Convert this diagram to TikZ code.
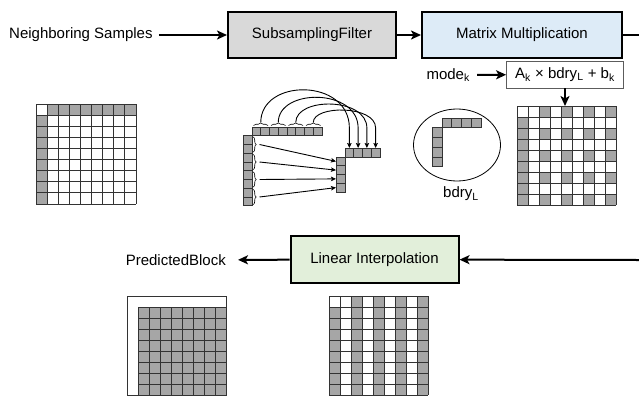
\documentclass[tikz,border=0pt]{standalone}
\usepackage{fontspec}
\setmainfont{Liberation Sans}
\usetikzlibrary{arrows.meta,decorations.pathreplacing,shapes.geometric}
\definecolor{cellgray}{HTML}{A6A6A6}
\definecolor{boxgray}{HTML}{D9D9D9}
\definecolor{boxblue}{HTML}{DDEBF7}
\definecolor{boxgreen}{HTML}{E2EFDA}
\definecolor{gridline}{HTML}{333333}
\begin{document}
\begin{tikzpicture}[x=1pt,y=-1pt,
  lbl/.style={font=\fontsize{15}{18}\selectfont, inner sep=0pt},
  procbox/.style={draw=black, line width=2pt, minimum width=168pt, minimum height=46pt,
    font=\fontsize{15}{18}\selectfont, inner sep=0pt},
  flow/.style={line width=2pt, -{Stealth[length=10pt,width=9pt,inset=2.5pt]}},
  thinarrow/.style={line width=0.9pt, -{Stealth[length=5pt,width=4.5pt,inset=1pt]}},
  gl/.style={draw=gridline, line width=1pt},
  cellbox/.style={fill=cellgray, draw=gridline, line width=0.9pt},
  brc/.style={decorate, decoration={brace, amplitude=2.5pt}, line width=0.6pt},
]
\useasboundingbox (0,0) rectangle (639,399);

% ---------- top flow ----------
\node[lbl, anchor=west] (ns) at (9,35) {Neighboring Samples};
\node[procbox, fill=boxgray] (sf) at (312,35) {SubsamplingFilter};
\node[procbox, fill=boxblue, minimum width=200pt] (mm) at (522,35) {Matrix Multiplication};
\coordinate (redge) at (639,35);
\draw[flow, shorten <=6pt] (ns) -- (sf);
\draw[flow] (sf) -- (mm);
\draw[line width=2pt] (mm) -- (redge);

\node[draw=gridline!80, line width=0.8pt, minimum width=117pt, minimum height=27pt,
  lbl] (ak) at (565,74.5) {A\textsubscript{k} × bdry\textsubscript{L} + b\textsubscript{k}};
\node[lbl, anchor=east] (mode) at (470,75) {mode\textsubscript{k}};
\draw[flow, shorten <=7pt] (mode) -- (ak);
\coordinate (gbtop) at (565,106);
\draw[flow] (ak.south) -- (gbtop);

% ---------- grid A (top left) ----------
\fill[cellgray] (47.111,104) rectangle (136,115.111);
\fill[cellgray] (36,115.111) rectangle (47.111,204);
\foreach \i in {0,...,9} {
  \draw[gl] ({36+\i*11.111},104) -- ++(0,100);
  \draw[gl] (36,{104+\i*11.111}) -- ++(100,0);
}

% ---------- grid B (matrix output) ----------
\fill[cellgray] (517,117) rectangle (528,205);
\foreach \a in {2,4,6,8} {
  \fill[cellgray] ({517+\a*11},106) rectangle ++(11,11);
  \foreach \b in {2,4,6,8}
    \fill[cellgray] ({517+\a*11},{106+\b*11}) rectangle ++(11,11);
}
\foreach \i in {0,...,9} {
  \draw[gl] ({517+\i*11},106) -- ++(0,99);
  \draw[gl] (517,{106+\i*11}) -- ++(99,0);
}

% ---------- subsampling illustration ----------
\foreach \i in {0,...,7} {
  \draw[cellbox] ({252+\i*8.75},127) rectangle ++(8.75,8.75);
  \draw[cellbox] (243.25,{135.75+\i*8.75}) rectangle ++(8.75,8.75);
}
\foreach \i in {0,...,3} {
  \draw[cellbox] ({345+\i*8.75},148.25) rectangle ++(8.75,8.75);
  \draw[cellbox] (336.25,{157+\i*8.75}) rectangle ++(8.75,8.75);
}
\foreach \p/\c in {0/78,1/88,2/97,3/105} {
  % top braces and curved arrows
  \draw[brc] ({252+\p*17.5+1.5},125.5) -- ({252+(\p+1)*17.5-1.5},125.5);
  \coordinate (ts\p) at ({260.75+\p*17.5},122.5);
  \coordinate (tt\p) at ({349.375+\p*8.75},148);
  \coordinate (tm\p) at ({349.375+\p*8.75},128);
  \draw[thinarrow] (ts\p) .. controls ({260.75+\p*17.5},\c) and ({349.375+\p*8.75},\c) .. (tm\p) -- (tt\p);
  % side braces and straight arrows
  \draw[brc, decoration={amplitude=3pt}] (253.2,{135.75+\p*17.5+1.2}) -- (253.2,{135.75+(\p+1)*17.5-1.2});
  \coordinate (ls\p) at (259.5,{144.5+\p*17.5});
  \coordinate (lt\p) at (336,{161.375+\p*8.75});
  \draw[thinarrow] (ls\p) -- (lt\p);
}

% ---------- bdry ellipse ----------
\node[draw, ellipse, minimum width=87pt, minimum height=72pt, line width=0.8pt] (ell) at (457,145) {};
\foreach \i in {0,...,3} {
  \draw[cellbox] ({442+\i*9.75},118) rectangle ++(9.75,9.75);
  \draw[cellbox] (432.25,{127.75+\i*9.75}) rectangle ++(9.75,9.75);
}
\node[lbl] (bd) at (461,194) {bdry\textsubscript{L}};

% ---------- bottom flow ----------
\node[procbox, fill=boxgreen, minimum height=47pt] (li) at (374.5,259.5) {Linear Interpolation};
\coordinate (redge2) at (639,260);
\draw[flow] (redge2) -- (li);
\node[lbl, anchor=east] (pb) at (226,260) {PredictedBlock};
\draw[flow, shorten >=12pt] (li) -- (pb);

% ---------- grid C (predicted block) ----------
\draw[gl] (127,296) rectangle (226,395);
\fill[cellgray] (138,307) rectangle (226,395);
\foreach \i in {0,...,8} {
  \draw[gl] ({138+\i*11},307) -- ++(0,88);
  \draw[gl] (138,{307+\i*11}) -- ++(88,0);
}

% ---------- grid D (vertical interpolation) ----------
\fill[cellgray] (329,307) rectangle (340,395);
\foreach \a in {2,4,6,8}
  \fill[cellgray] ({329+\a*11},296) rectangle ++(11,99);
\foreach \i in {0,...,9} {
  \draw[gl] ({329+\i*11},296) -- ++(0,99);
  \draw[gl] (329,{296+\i*11}) -- ++(99,0);
}
\end{tikzpicture}
\end{document}
